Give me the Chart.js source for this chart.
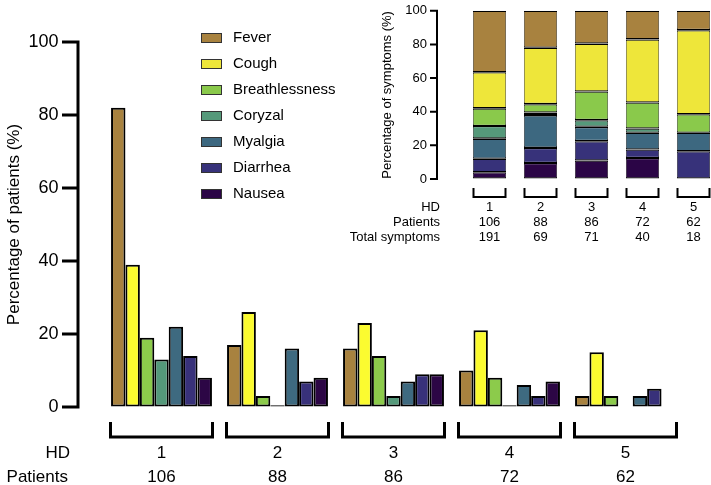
<!DOCTYPE html>
<html>
<head>
<meta charset="utf-8">
<script src="https://cdn.jsdelivr.net/npm/chart.js@4.4.1/dist/chart.umd.min.js"></script>
<style>
  html, body { margin: 0; padding: 0; background: #fff; overflow: hidden; }
  #wrap { position: relative; width: 711px; height: 485px; overflow: hidden; }
  #mainChart { position: absolute; left: 0; top: 0; }
  #shareChart { position: absolute; left: 330px; top: 0; }
</style>
</head>
<body>
<div id="wrap">
  <canvas id="mainChart" width="711" height="485"></canvas>
  <canvas id="shareChart" width="395" height="245"></canvas>
</div>
<script>
'use strict';

// data
const symptoms = ['Fever', 'Cough', 'Breathlessness', 'Coryzal', 'Myalgia', 'Diarrhea', 'Nausea'];
const hdLabels = ['1', '2', '3', '4', '5'];
const patients = [106, 88, 86, 72, 62];
const totalSymptoms = [191, 69, 71, 40, 18];
const yTicks = [0, 20, 40, 60, 80, 100];

// percentage of patients, per symptom, per HD
const feverPct    = [82, 17, 16, 10, 3];
const coughPct    = [39, 26, 23, 21, 15];
const breathPct   = [19, 3, 14, 8, 3];
const coryzalPct  = [13, 0.5, 3, 0.5, 0];
const myalgiaPct  = [22, 16, 7, 6, 3];
const diarrheaPct = [14, 7, 9, 3, 5];
const nauseaPct   = [8, 8, 9, 7, 0];

// percentage of symptoms (inset), per symptom, per HD
const feverShare    = [36.5, 22, 19.5, 17, 11.5];
const coughShare    = [21.5, 33.5, 28.5, 37.5, 50];
const breathShare   = [10.5, 5, 17, 15.5, 11];
const coryzalShare  = [7.5, 1.5, 4, 2.5, 0];
const myalgiaShare  = [12, 19.5, 8.5, 10, 11];
const diarrheaShare = [8, 9, 11.5, 5, 16.5];
const nauseaShare   = [4, 9.5, 11, 12.5, 0];

const barColors   = ['#A8823F', '#FBFB30', '#8CCB4B', '#54997A', '#3E6A80', '#38317A', '#2C0645'];
const shareColors = ['#A8823F', '#EEE63A', '#8AC94B', '#55997A', '#3D6880', '#37327A', '#2B0546'];

const pctSeries = [feverPct, coughPct, breathPct, coryzalPct, myalgiaPct, diarrheaPct, nauseaPct];
const shareSeries = [feverShare, coughShare, breathShare, coryzalShare, myalgiaShare, diarrheaShare, nauseaShare];

Chart.defaults.font.family = "'Liberation Sans', Arial, sans-serif";
Chart.defaults.color = '#000';

// axis line, brackets, row labels and legend for the big chart
const mainDecor = {
  id: 'mainDecor',
  afterDraw(chart) {
    const ctx = chart.ctx;
    const area = chart.chartArea;
    const x = chart.scales.x, y = chart.scales.y;
    const ax = area.left - 25.5;
    ctx.save();
    ctx.strokeStyle = '#000';
    ctx.lineWidth = 3;
    ctx.lineCap = 'butt';
    ctx.beginPath();
    ctx.moveTo(ax, y.getPixelForValue(100) - 1.5);
    ctx.lineTo(ax, y.getPixelForValue(0) + 1.5);
    y.ticks.forEach(function (t) {
      const py = y.getPixelForValue(t.value);
      ctx.moveTo(ax - 16, py);
      ctx.lineTo(ax, py);
    });
    ctx.stroke();

    // brackets under each HD group
    ctx.beginPath();
    hdLabels.forEach(function (l, i) {
      const cx = x.getPixelForValue(i);
      const x0 = cx - 51, x1 = cx + 51;
      const top = area.bottom + 15, bot = area.bottom + 30;
      ctx.moveTo(x0, top);
      ctx.lineTo(x0, bot);
      ctx.lineTo(x1, bot);
      ctx.lineTo(x1, top);
    });
    ctx.stroke();

    ctx.fillStyle = '#000';
    ctx.font = "17px 'Liberation Sans', Arial, sans-serif";
    ctx.textBaseline = 'middle';
    ctx.textAlign = 'right';
    ctx.fillText('HD', 70, area.bottom + 46);
    ctx.fillText('Patients', 68, area.bottom + 70);
    ctx.textAlign = 'center';
    hdLabels.forEach(function (l, i) {
      const cx = x.getPixelForValue(i);
      ctx.fillText(l, cx, area.bottom + 46);
      ctx.fillText(String(patients[i]), cx, area.bottom + 70);
    });

    // legend
    ctx.font = "15px 'Liberation Sans', Arial, sans-serif";
    ctx.textAlign = 'left';
    ctx.lineWidth = 1;
    ctx.strokeStyle = '#333';
    symptoms.forEach(function (s, i) {
      const cy = 38 + i * 26;
      ctx.fillStyle = shareColors[i];
      ctx.fillRect(201, cy - 5, 21, 10);
      ctx.strokeRect(201.5, cy - 4.5, 20, 9);
      ctx.fillStyle = '#000';
      ctx.fillText(s, 233, cy);
    });
    ctx.restore();
  }
};

new Chart(document.getElementById('mainChart'), {
  type: 'bar',
  data: {
    labels: hdLabels,
    datasets: symptoms.map(function (s, i) {
      return {
        label: s,
        data: pctSeries[i],
        backgroundColor: barColors[i],
        borderColor: '#000',
        borderWidth: 2,
        borderSkipped: false,
        barPercentage: 1.0,
        categoryPercentage: 0.87
      };
    })
  },
  options: {
    responsive: false,
    animation: false,
    devicePixelRatio: 1,
    layout: { padding: { top: 42, bottom: 78, left: 0, right: 27.5 } },
    plugins: { legend: { display: false }, tooltip: { enabled: false } },
    scales: {
      x: { display: false },
      y: {
        min: 0, max: 100,
        afterBuildTicks: function (s) { s.ticks = yTicks.map(function (v) { return { value: v }; }); },
        afterFit: function (s) { s.width = 103.5; },
        // invisible tick marks only push the labels left; the real axis is drawn by mainDecor
        grid: { display: true, drawOnChartArea: false, drawTicks: true, tickLength: 42, color: 'rgba(0,0,0,0)' },
        border: { display: false },
        ticks: { padding: 3, font: { size: 18 }, color: '#000' },
        title: { display: true, text: 'Percentage of patients (%)', font: { size: 17 }, color: '#000' }
      }
    }
  },
  plugins: [mainDecor]
});

// axis line, brackets and rows for the inset
const shareDecor = {
  id: 'shareDecor',
  afterDraw(chart) {
    const ctx = chart.ctx;
    const area = chart.chartArea;
    const x = chart.scales.x, y = chart.scales.y;
    const ax = area.left - 27;
    ctx.save();
    ctx.strokeStyle = '#000';
    ctx.lineWidth = 2;
    ctx.beginPath();
    ctx.moveTo(ax, y.getPixelForValue(100) - 1);
    ctx.lineTo(ax, y.getPixelForValue(0) + 1);
    y.ticks.forEach(function (t) {
      const py = y.getPixelForValue(t.value);
      ctx.moveTo(ax - 7, py);
      ctx.lineTo(ax, py);
    });
    ctx.stroke();

    ctx.beginPath();
    hdLabels.forEach(function (l, i) {
      const cx = x.getPixelForValue(i);
      const x0 = cx - 16, x1 = cx + 16;
      const top = area.bottom + 9, bot = area.bottom + 18;
      ctx.moveTo(x0, top);
      ctx.lineTo(x0, bot);
      ctx.lineTo(x1, bot);
      ctx.lineTo(x1, top);
    });
    ctx.stroke();

    ctx.fillStyle = '#000';
    ctx.font = "13px 'Liberation Sans', Arial, sans-serif";
    ctx.textBaseline = 'middle';
    ctx.textAlign = 'right';
    ctx.fillText('HD', 110, area.bottom + 28);
    ctx.fillText('Patients', 110, area.bottom + 43);
    ctx.fillText('Total symptoms', 110, area.bottom + 58);
    ctx.textAlign = 'center';
    hdLabels.forEach(function (l, i) {
      const cx = x.getPixelForValue(i);
      ctx.fillText(l, cx, area.bottom + 28);
      ctx.fillText(String(patients[i]), cx, area.bottom + 43);
      ctx.fillText(String(totalSymptoms[i]), cx, area.bottom + 58);
    });
    ctx.restore();
  }
};

// stack from the bottom: Nausea first, Fever on top
const stackOrder = [6, 5, 4, 3, 2, 1, 0];

new Chart(document.getElementById('shareChart'), {
  type: 'bar',
  data: {
    labels: hdLabels,
    datasets: stackOrder.map(function (i) {
      return {
        label: symptoms[i],
        data: shareSeries[i],
        backgroundColor: shareColors[i],
        borderColor: '#000',
        borderWidth: { top: 1.3, bottom: 1.3, left: 0.7, right: 0.7 },
        borderSkipped: false,
        barPercentage: 1.0,
        categoryPercentage: 0.65
      };
    })
  },
  options: {
    responsive: false,
    animation: false,
    devicePixelRatio: 1,
    layout: { padding: { top: 6, bottom: 66, left: 46, right: 6 } },
    plugins: { legend: { display: false }, tooltip: { enabled: false } },
    scales: {
      x: { stacked: true, display: false },
      y: {
        stacked: true,
        min: 0, max: 100,
        afterBuildTicks: function (s) { s.ticks = yTicks.map(function (v) { return { value: v }; }); },
        afterFit: function (s) { s.width = 88; },
        grid: { display: true, drawOnChartArea: false, drawTicks: true, tickLength: 34, color: 'rgba(0,0,0,0)' },
        border: { display: false },
        ticks: { padding: 3, font: { size: 13 }, color: '#000' },
        title: { display: true, text: 'Percentage of symptoms (%)', font: { size: 13 }, color: '#000' }
      }
    }
  },
  plugins: [shareDecor]
});
</script>
</body>
</html>
